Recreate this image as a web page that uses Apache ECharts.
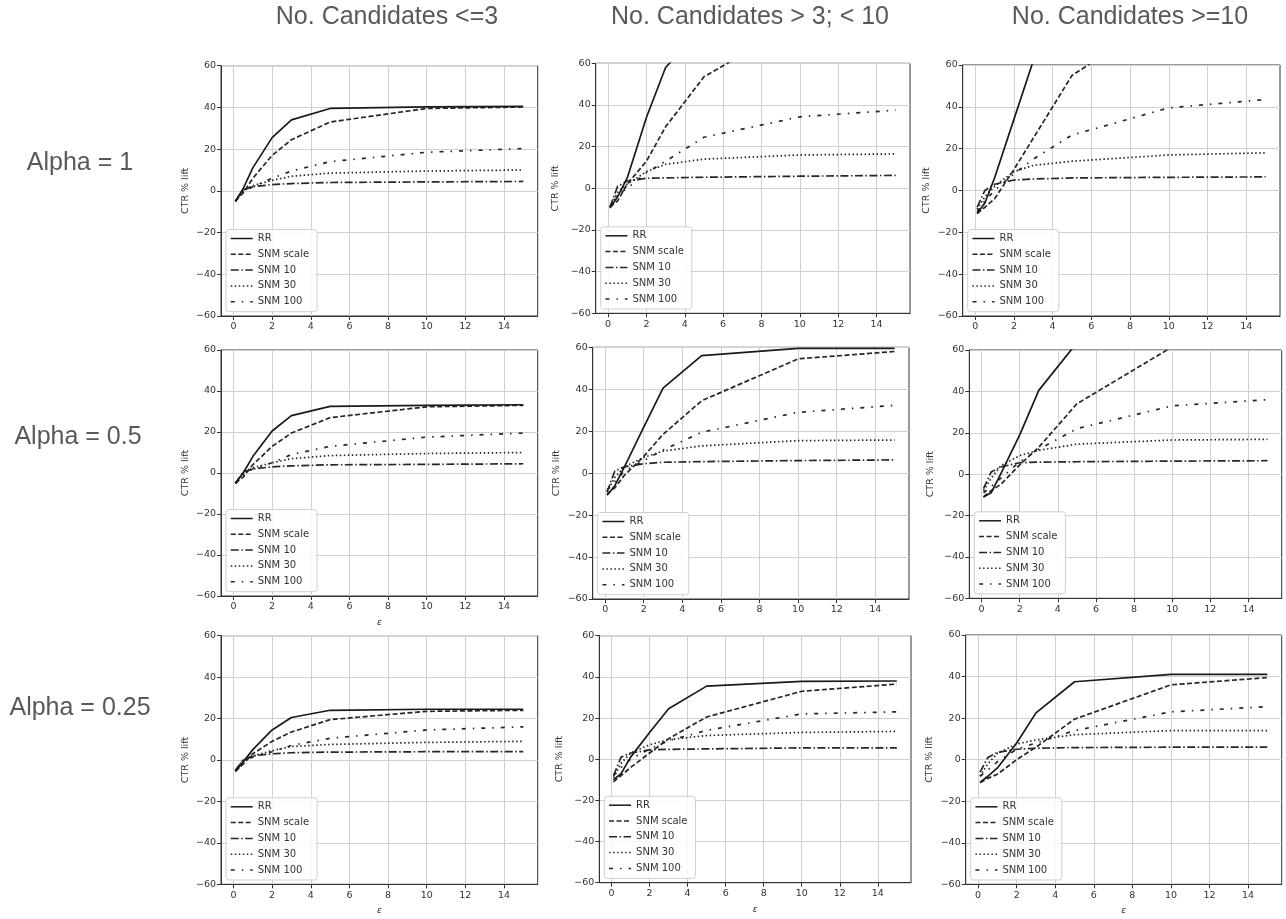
<!DOCTYPE html>
<html>
<head>
<meta charset="utf-8">
<script src="https://cdn.jsdelivr.net/npm/echarts@6/dist/echarts.min.js"></script>
<style>html,body{margin:0;padding:0;background:#fff;}#c{width:1286px;height:919px;}</style>
</head>
<body>
<div id="c"></div>
<script>
// ---- data ----
const eps = [0.1, 0.5, 1, 2, 3, 5, 10, 15];
const seriesNames = ['RR', 'SNM scale', 'SNM 10', 'SNM 30', 'SNM 100'];
const colTitles = ['No. Candidates <=3', 'No. Candidates > 3; < 10', 'No. Candidates >=10'];
const rowTitles = ['Alpha = 1', 'Alpha = 0.5', 'Alpha = 0.25'];
const xTicks = [0, 2, 4, 6, 8, 10, 12, 14];
const yTicks = [-60, -40, -20, 0, 20, 40, 60];

// Alpha = 1
const p11_RR   = [-5, 1, 11, 25.5, 34, 39.5, 40.3, 40.5];
const p11_SC   = [-5, -1, 6, 17, 24.5, 33, 39.5, 40.2];
const p11_S10  = [-5, 0.5, 2, 3, 3.5, 4, 4.3, 4.5];
const p11_S30  = [-5, 0, 2.5, 5, 7, 8.5, 9.5, 10];
const p11_S100 = [-5, -0.5, 2, 6, 9.5, 14, 18.5, 20.3];

const p12_RR   = [-9.5, -4, 5, 34, 58, 78, 82, 83];
const p12_SC   = [-9, -6, 2, 13, 29.5, 53.5, 80, 85];
const p12_S10  = [-9, 1, 3.5, 4.8, 5, 5.3, 5.8, 6.2];
const p12_S30  = [-9, -2, 2, 8, 11.5, 14, 16, 16.5];
const p12_S100 = [-9, -3, 0, 7.5, 13, 24.5, 34.3, 37.5];

const p13_RR   = [-11, -6, 6, 34, 62, 90, 95, 97];
const p13_SC   = [-11, -8, -4, 10, 25, 55, 85, 90];
const p13_S10  = [-8, 0, 3, 5, 5.5, 6, 6.3, 6.5];
const p13_S30  = [-9, -3, 2, 9, 12, 14, 17, 18];
const p13_S100 = [-10, -5, 0, 8, 15, 26.5, 39.5, 43.5];

// Alpha = 0.5
const p21_RR   = [-5, 0, 8, 20.5, 28, 32.5, 33, 33.3];
const p21_SC   = [-5, -2, 4, 13, 19.5, 27, 32.3, 33];
const p21_S10  = [-5, 0.5, 2, 3, 3.5, 4, 4.2, 4.5];
const p21_S30  = [-5, 0, 2.5, 5, 7, 8.5, 9.5, 10];
const p21_S100 = [-5, -1, 2, 5, 9, 13, 17.5, 19.5];

const p22_RR   = [-10.5, -6, 3, 22, 40.5, 56, 59.5, 59.5];
const p22_SC   = [-10, -7, -1, 8, 18.5, 34.5, 54.5, 58];
const p22_S10  = [-9, 1, 3, 4.5, 5.2, 5.5, 6, 6.3];
const p22_S30  = [-9, -2, 3, 7.5, 10.5, 13, 15.5, 15.8];
const p22_S100 = [-8, -4, 1, 6, 11, 19.5, 29, 32.3];

const p23_RR   = [-11, -9, 0, 19, 40.5, 63.5, 75, 78];
const p23_SC   = [-11, -8, -5, 4.5, 13, 34, 61.5, 70];
const p23_S10  = [-7, 1, 3.5, 5.5, 5.8, 6, 6.3, 6.5];
const p23_S30  = [-8, -2, 4, 9, 11.5, 14.5, 16.5, 16.8];
const p23_S100 = [-9, -6, -2, 6, 12, 22, 33, 36];

// Alpha = 0.25
const p31_RR   = [-5.5, -1, 5, 14.5, 20.5, 24, 24.5, 24.5];
const p31_SC   = [-5.5, -2, 3, 9, 13.5, 19.5, 23.5, 24];
const p31_S10  = [-5, 0, 2, 3, 3.5, 3.8, 4, 4];
const p31_S30  = [-5, 0, 2, 4.5, 6.5, 7.5, 8.5, 9];
const p31_S100 = [-5, -1, 1.5, 4, 7, 10.5, 14.5, 16];

const p32_RR   = [-10, -7, 1, 13, 24.5, 35.5, 37.8, 38];
const p32_SC   = [-11, -8, -4, 3, 10, 20.5, 33, 36.5];
const p32_S10  = [-8, 1, 3, 4.5, 4.8, 5, 5.5, 5.5];
const p32_S30  = [-9, -2, 3, 7, 9.5, 11.5, 13, 13.5];
const p32_S100 = [-8, -4, 0, 5, 9, 14, 22, 23];

const p33_RR   = [-11, -8, -4, 8, 22.5, 37.5, 41, 41];
const p33_SC   = [-11, -9, -7, 0, 6, 19.5, 36, 39.5];
const p33_S10  = [-6, 1, 3.5, 5, 5.5, 5.8, 6, 6];
const p33_S30  = [-8, -2, 3, 7.5, 9.5, 12, 14, 14];
const p33_S100 = [-8, -5, -1, 5, 8, 14, 23, 25.5];

const panels = [
  [p11_RR, p11_SC, p11_S10, p11_S30, p11_S100],
  [p12_RR, p12_SC, p12_S10, p12_S30, p12_S100],
  [p13_RR, p13_SC, p13_S10, p13_S30, p13_S100],
  [p21_RR, p21_SC, p21_S10, p21_S30, p21_S100],
  [p22_RR, p22_SC, p22_S10, p22_S30, p22_S100],
  [p23_RR, p23_SC, p23_S10, p23_S30, p23_S100],
  [p31_RR, p31_SC, p31_S10, p31_S30, p31_S100],
  [p32_RR, p32_SC, p32_S10, p32_S30, p32_S100],
  [p33_RR, p33_SC, p33_S10, p33_S30, p33_S100]
];

// ---- layout / style ----
const gridBoxes = [
  [221, 65.7, 316.7, 250.3], [595.7, 63.3, 314.3, 250], [962.7, 65, 317.3, 251],
  [221, 350, 316.7, 246], [592.7, 347.3, 316.3, 251.7], [969.3, 350, 312.4, 248.3],
  [221, 635.7, 316.7, 248.6], [599.3, 635.7, 311.7, 247], [965.7, 635, 316, 249.3]
];
const yNameGaps = [30, 35, 31, 30, 31, 34, 30, 35, 31];
const lineStyles = [
  { type: 'solid', color: '#1a1a1a' },
  { type: [5, 2.5], color: '#262626' },
  { type: [8, 2.5, 1.5, 2.5], color: '#262626' },
  { type: [1.5, 2.5], color: '#262626' },
  { type: [4, 7, 1.5, 7], color: '#262626' }
];
const FONT = 'DejaVu Sans';
const minus = v => String(v).replace('-', '\u2212');

const grid = [], xAxis = [], yAxis = [], series = [], legend = [], graphic = [];
gridBoxes.forEach((b, i) => {
  const row = Math.floor(i / 3);
  grid.push({ left: b[0], top: b[1], width: b[2], height: b[3], show: true,
    borderColor: '#333', borderWidth: 1, backgroundColor: 'transparent' });
  xAxis.push({
    type: 'value', gridIndex: i, min: -0.645, max: 15.745, splitNumber: 8,
    name: (row === 1 && i === 3) || row === 2 ? '\u03b5' : '',
    nameLocation: 'middle', nameGap: 22,
    nameTextStyle: { fontFamily: FONT, fontStyle: 'italic', fontSize: 9, color: '#333' },
    axisLine: { show: true, onZero: false, lineStyle: { color: '#333' } },
    axisTick: { show: true, length: 4, lineStyle: { color: '#333' }, customValues: xTicks },
    axisLabel: { fontFamily: FONT, fontSize: 9.5, color: '#333', margin: 6,
      customValues: xTicks, formatter: minus },
    splitLine: { show: true, lineStyle: { color: '#d0d0d0', width: 1 } }
  });
  yAxis.push({
    type: 'value', gridIndex: i, min: -60, max: 60, interval: 20,
    name: 'CTR % lift', nameLocation: 'middle', nameRotate: 90, nameGap: yNameGaps[i],
    nameTextStyle: { fontFamily: FONT, fontSize: 9.5, color: '#333' },
    axisLine: { show: true, onZero: false, lineStyle: { color: '#333' } },
    axisTick: { show: true, length: 4, lineStyle: { color: '#333' } },
    axisLabel: { fontFamily: FONT, fontSize: 9.5, color: '#333', margin: 5, formatter: minus },
    splitLine: { show: true, lineStyle: { color: '#d0d0d0', width: 1 } }
  });
  panels[i].forEach((vals, k) => {
    series.push({
      type: 'line', name: seriesNames[k], xAxisIndex: i, yAxisIndex: i,
      data: eps.map((x, j) => [x, vals[j]]),
      symbol: 'none', showSymbol: false, clip: true, animation: false, silent: true,
      lineStyle: { width: 1.7, type: lineStyles[k].type, color: lineStyles[k].color },
      itemStyle: { color: lineStyles[k].color },
      z: 10 - k
    });
  });
  legend.push({
    data: seriesNames, orient: 'vertical', selectedMode: false,
    left: b[0] + 5, bottom: 919 - (b[1] + b[3]) + 4.3,
    itemWidth: 22, itemHeight: 10, itemGap: 3.8,
    padding: [3, 8, 4, 4],
    borderColor: '#cfcfcf', borderWidth: 1, borderRadius: 3,
    backgroundColor: 'rgba(255,255,255,0.85)',
    textStyle: { fontFamily: FONT, fontSize: 10, color: '#333', lineHeight: 12 },
    itemStyle: { opacity: 0, color: 'transparent', borderWidth: 0 },
    lineStyle: { width: 1.5, opacity: 1 }
  });
});

const colCenters = [387, 750, 1130];
colTitles.forEach((t, i) => graphic.push({
  type: 'text', x: colCenters[i], y: 17,
  style: { text: t, fontFamily: 'Liberation Sans', fontSize: 25, fill: '#595959', align: 'center', verticalAlign: 'middle' }
}));
const rowCenters = [163, 437, 708];
const rowX = [80, 78, 80];
rowTitles.forEach((t, i) => graphic.push({
  type: 'text', x: rowX[i], y: rowCenters[i],
  style: { text: t, fontFamily: 'Liberation Sans', fontSize: 25, fill: '#595959', align: 'center', verticalAlign: 'middle' }
}));

const chart = echarts.init(document.getElementById('c'), null, { renderer: 'canvas' });
chart.setOption({ animation: false, grid, xAxis, yAxis, series, legend, graphic });
</script>
</body>
</html>
